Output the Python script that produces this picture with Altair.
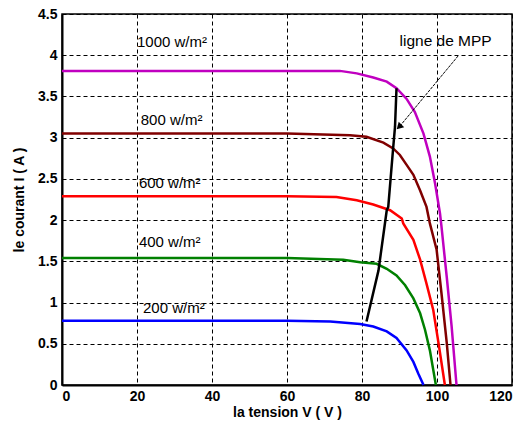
import altair as alt
import pandas as pd

# I-V characteristics of the PV array for several irradiance levels
v_1000 = [0, 60, 74.1, 78.6, 83.0, 86.6, 89.2, 91.9, 94.1, 96.4, 98.1, 99.5, 100.8, 101.2, 102.6, 103.9, 105.2]
i_1000 = [3.81, 3.81, 3.81, 3.78, 3.73, 3.68, 3.60, 3.47, 3.31, 3.05, 2.77, 2.44, 2.08, 1.92, 1.31, 0.71, 0.0]

v_800 = [0, 60, 76.8, 81.2, 85.7, 88.3, 90.1, 91.9, 93.7, 95.5, 97.2, 98.1, 99.9, 101.2, 102.6, 103.6]
i_800 = [3.05, 3.05, 3.03, 3.01, 2.94, 2.87, 2.79, 2.67, 2.55, 2.36, 2.16, 1.96, 1.64, 1.11, 0.51, 0.0]

v_600 = [0, 60, 73.2, 78.6, 83.0, 87.5, 90.6, 91.0, 93.7, 95.5, 97.2, 99.0, 100.4, 102.1]
i_600 = [2.29, 2.29, 2.28, 2.24, 2.19, 2.12, 2.02, 1.96, 1.76, 1.52, 1.23, 0.91, 0.51, 0.0]

v_400 = [0, 60, 75.0, 79.5, 83.9, 86.6, 89.2, 91.5, 93.7, 95.5, 96.8, 98.1, 99.7]
i_400 = [1.54, 1.54, 1.52, 1.49, 1.47, 1.41, 1.33, 1.21, 1.05, 0.87, 0.67, 0.42, 0.0]

v_200 = [0, 60, 71.5, 79.5, 83.0, 86.6, 89.2, 91.9, 93.7, 95.0, 96.4]
i_200 = [0.78, 0.78, 0.77, 0.74, 0.71, 0.65, 0.57, 0.42, 0.28, 0.14, 0.0]

# Maximum power points joined together
v_mpp = [81.2, 84.4, 86.6, 87.0, 88.3, 88.8, 89.2]
i_mpp = [0.77, 1.39, 2.12, 2.16, 2.87, 3.13, 3.60]

# Irradiance labels
labels = ["1000 w/m²", "800 w/m²", "600 w/m²", "400 w/m²", "200 w/m²"]
label_v = [20.0, 21.0, 20.5, 20.5, 21.6]
label_i = [4.16, 3.22, 2.45, 1.74, 0.93]
colors = ["#c000c0", "#800000", "#ff0000", "#008000", "#0000ff"]

# Arrow pointing at the MPP line
arrow_v = [105.6, 90.1]
arrow_i = [3.99, 3.14]

rows = []
for name, vs, is_ in zip(labels,
                         [v_1000, v_800, v_600, v_400, v_200],
                         [i_1000, i_800, i_600, i_400, i_200]):
    for k, (v, i) in enumerate(zip(vs, is_)):
        rows.append({"serie": name, "V": v, "I": i, "k": k})
curves = pd.DataFrame(rows)
mpp = pd.DataFrame({"V": v_mpp, "I": i_mpp, "k": range(len(v_mpp))})
lab = pd.DataFrame({"txt": labels, "V": label_v, "I": label_i})
arrow = pd.DataFrame({"V": arrow_v, "I": arrow_i, "k": [0, 1]})

FONT = "Liberation Sans"
xs = alt.Scale(domain=[0, 120], nice=False)
ys = alt.Scale(domain=[0, 4.5], nice=False)

x_axis = alt.Axis(values=list(range(0, 121, 20)), grid=True, gridColor="black",
                  gridDash=[4, 3], gridWidth=1, gridOpacity=1,
                  title="la tension V ( V )", titleFont=FONT, titleFontSize=14,
                  titleFontWeight="bold", titleColor="black", titlePadding=2,
                  labelFont=FONT, labelFontSize=14, labelFontWeight="bold",
                  labelColor="black", labelPadding=4, ticks=False,
                  domainColor="black", domainWidth=2)
y_axis = alt.Axis(values=[0, 0.5, 1, 1.5, 2, 2.5, 3, 3.5, 4, 4.5], format="~g",
                  grid=True, gridColor="black", gridDash=[4, 3], gridWidth=1,
                  gridOpacity=1,
                  title="le courant I ( A )", titleFont=FONT, titleFontSize=14,
                  titleFontWeight="bold", titleColor="black", titlePadding=11,
                  labelFont=FONT, labelFontSize=14, labelFontWeight="bold",
                  labelColor="black", labelPadding=5, ticks=False,
                  domainColor="black", domainWidth=2)

lines = alt.Chart(curves).mark_line(strokeWidth=2.5).encode(
    x=alt.X("V:Q", scale=xs, axis=x_axis),
    y=alt.Y("I:Q", scale=ys, axis=y_axis),
    color=alt.Color("serie:N", scale=alt.Scale(domain=labels, range=colors), legend=None),
    order="k:Q",
)

mpp_line = alt.Chart(mpp).mark_line(color="black", strokeWidth=2.5).encode(
    x=alt.X("V:Q", scale=xs), y=alt.Y("I:Q", scale=ys), order="k:Q")

arrow_line = alt.Chart(arrow).mark_line(color="black", strokeWidth=1, strokeDash=[3, 1]).encode(
    x=alt.X("V:Q", scale=xs), y=alt.Y("I:Q", scale=ys), order="k:Q")

arrow_head = alt.Chart(arrow.iloc[[1]]).mark_point(
    shape="triangle", filled=True, color="black", size=60, angle=225, opacity=1
).encode(x=alt.X("V:Q", scale=xs), y=alt.Y("I:Q", scale=ys))

texts = alt.Chart(lab).mark_text(align="left", baseline="middle", font=FONT,
                                 fontSize=15, color="black").encode(
    x=alt.X("V:Q", scale=xs), y=alt.Y("I:Q", scale=ys), text="txt:N")

mpp_text = alt.Chart(pd.DataFrame({"txt": ["ligne de MPP"], "V": [90.0], "I": [4.17]})).mark_text(
    align="left", baseline="middle", font=FONT, fontSize=15.5, color="black").encode(
    x=alt.X("V:Q", scale=xs), y=alt.Y("I:Q", scale=ys), text="txt:N")

chart = alt.layer(lines, mpp_line, arrow_line, arrow_head, texts, mpp_text).properties(
    width=450, height=371,
    autosize=alt.AutoSizeParams(type="none"),
    padding={"left": 62, "top": 14, "right": 13, "bottom": 51},
    background="white",
).configure_view(stroke="black", strokeWidth=1.5)

chart.save("out.html", embed_options={"renderer": "svg", "actions": False})
